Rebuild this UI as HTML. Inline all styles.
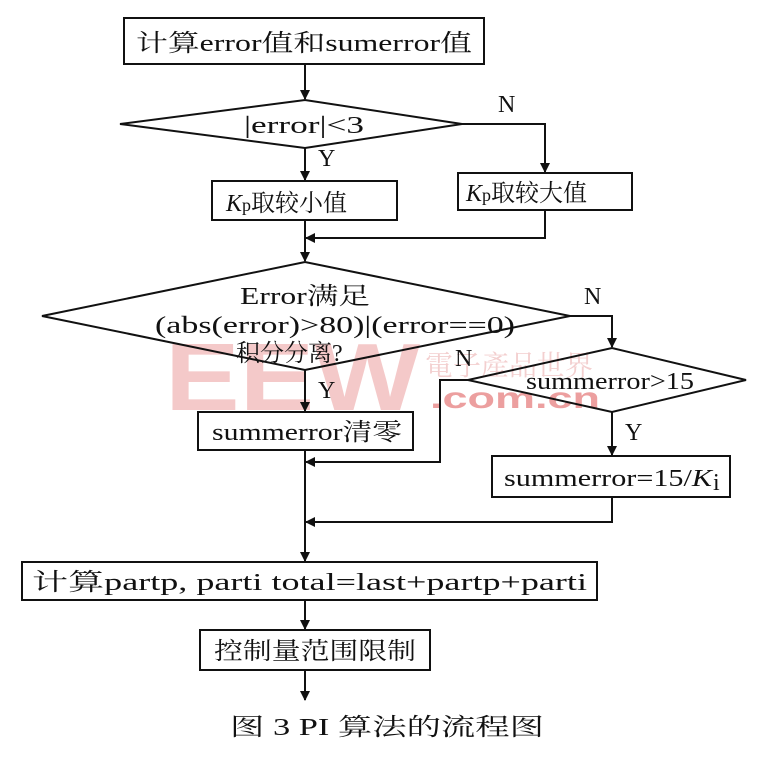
<!DOCTYPE html>
<html><head><meta charset="utf-8"><style>
html,body{margin:0;padding:0;background:#fff;}
svg{display:block;}
text{font-family:"Liberation Serif","Noto Serif CJK SC",serif;font-size:24px;fill:#111;}
</style></head><body>
<svg width="771" height="757" viewBox="0 0 771 757" xmlns="http://www.w3.org/2000/svg">
<defs><marker id="a" markerWidth="10" markerHeight="10" refX="9" refY="5" orient="auto" markerUnits="userSpaceOnUse"><path d="M0,0 L10,5 L0,10 z" fill="#111"/></marker></defs>
<text x="165" y="410" style="font-family:'Liberation Sans',sans-serif;font-size:96px;font-weight:bold;fill:#e88a8a;opacity:0.45" textLength="255" lengthAdjust="spacingAndGlyphs">EEW</text>
<text x="430" y="408" style="font-family:'Liberation Sans',sans-serif;font-size:30px;font-weight:bold;fill:#e06060;opacity:0.6" textLength="170" lengthAdjust="spacingAndGlyphs">.com.cn</text>
<text x="425" y="375" style="font-size:28px;fill:#e8a0a0;opacity:0.5">電子產品世界</text>
<g stroke="#111" stroke-width="2" fill="none">
<rect x="124" y="18" width="360" height="46"/>
<line x1="305" y1="64" x2="305" y2="99" marker-end="url(#a)"/>
<polygon points="120,124 305,100 462,124 305,148"/>
<polyline points="462,124 545,124 545,172" marker-end="url(#a)"/>
<line x1="305" y1="148" x2="305" y2="180" marker-end="url(#a)"/>
<rect x="212" y="181" width="185" height="39"/>
<rect x="458" y="173" width="174" height="37"/>
<polyline points="545,210 545,238 306,238" marker-end="url(#a)"/>
<line x1="305" y1="220" x2="305" y2="261" marker-end="url(#a)"/>
<polygon points="42,316 305,262 570,316 305,370"/>
<polyline points="570,316 612,316 612,347" marker-end="url(#a)"/>
<polygon points="468,380 612,348 746,380 612,412"/>
<polyline points="468,380 440,380 440,462 306,462" marker-end="url(#a)"/>
<line x1="305" y1="370" x2="305" y2="411" marker-end="url(#a)"/>
<rect x="198" y="412" width="215" height="38"/>
<line x1="612" y1="412" x2="612" y2="455" marker-end="url(#a)"/>
<rect x="492" y="456" width="238" height="41"/>
<polyline points="612,497 612,522 306,522" marker-end="url(#a)"/>
<line x1="305" y1="450" x2="305" y2="561" marker-end="url(#a)"/>
<rect x="22" y="562" width="575" height="38"/>
<line x1="305" y1="600" x2="305" y2="629" marker-end="url(#a)"/>
<rect x="200" y="630" width="230" height="40"/>
<line x1="305" y1="670" x2="305" y2="700" marker-end="url(#a)"/>
</g>
<text x="136" y="51" textLength="336" lengthAdjust="spacingAndGlyphs">计算error值和sumerror值</text>
<text x="244" y="133" textLength="120" lengthAdjust="spacingAndGlyphs">|error|&lt;3</text>
<text x="498" y="112" font-size="22">N</text>
<text x="318" y="166" font-size="22">Y</text>
<text x="226" y="211" font-size="26"><tspan font-style="italic">K</tspan><tspan font-size="18">p</tspan>取较小值</text>
<text x="466" y="201" font-size="26"><tspan font-style="italic">K</tspan><tspan font-size="18">p</tspan>取较大值</text>
<text x="240" y="304" textLength="130" lengthAdjust="spacingAndGlyphs">Error满足</text>
<text x="155" y="333" textLength="360" lengthAdjust="spacingAndGlyphs">(abs(error)&gt;80)|(error==0)</text>
<text x="236" y="361">积分分离?</text>
<text x="584" y="304" font-size="22">N</text>
<text x="526" y="389" textLength="168" lengthAdjust="spacingAndGlyphs">summerror&gt;15</text>
<text x="455" y="366" font-size="22">N</text>
<text x="318" y="398" font-size="22">Y</text>
<text x="212" y="440" textLength="190" lengthAdjust="spacingAndGlyphs">summerror清零</text>
<text x="625" y="440" font-size="22">Y</text>
<text x="504" y="486" textLength="208" lengthAdjust="spacingAndGlyphs">summerror=15/<tspan font-style="italic">K</tspan></text>
<text x="713" y="490" font-size="15">i</text>
<text x="32" y="590" textLength="555" lengthAdjust="spacingAndGlyphs">计算partp, parti total=last+partp+parti</text>
<text x="214" y="659" textLength="202" lengthAdjust="spacingAndGlyphs">控制量范围限制</text>
<text x="230" y="735" font-size="26" textLength="314" lengthAdjust="spacingAndGlyphs">图 3  PI 算法的流程图</text>
</svg>
</body></html>
